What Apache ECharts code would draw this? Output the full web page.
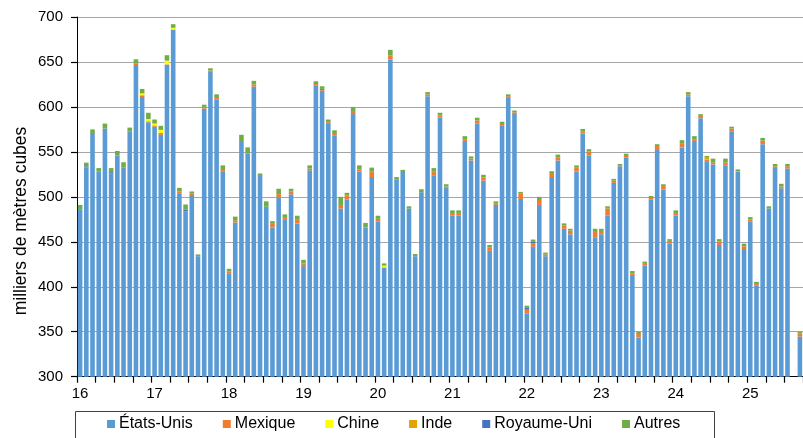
<!DOCTYPE html>
<html>
<head>
<meta charset="utf-8">
<script src="https://cdn.jsdelivr.net/npm/echarts@6/dist/echarts.min.js"></script>
<style>
  html, body { margin: 0; padding: 0; background: #fff; }
  #main { width: 803px; height: 438px; }
</style>
</head>
<body>
<div id="main"></div>
<script>
// année (2 chiffres), une barre par mois de janv. 2016 à sept. 2025
var years = ['16', '17', '18', '19', '20', '21', '22', '23', '24', '25'];
var lastYearMonths = 9;

var seriesNames = ['États-Unis', 'Mexique', 'Chine', 'Inde', 'Royaume-Uni', 'Autres'];

// milliers de mètres cubes
var etatsUnis = [
  486, 533, 571, 528.5, 576, 526, 546, 532.5, 573, 646.5, 611, 583,
  578, 569, 647, 686, 504, 484, 502, 434, 598, 639, 608, 528.5,
  415, 471.5, 561, 548.5, 622.5, 522.5, 489, 466, 499, 475, 503, 470.5,
  423, 529.5, 623.5, 618, 581, 568.5, 487, 497, 592, 528, 466, 522,
  473, 421.5, 652.5, 519.5, 527.5, 487, 434, 505, 612, 524, 588, 510,
  479, 479, 561, 540.5, 581.5, 518, 440, 491, 579, 610, 592, 497.5,
  370.5, 444.5, 491, 434, 522, 540.5, 464.5, 458.5, 528, 570.5, 546, 454.5,
  458.5, 479, 515.5, 534, 543.5, 413, 343.5, 423.5, 497, 552, 508, 448,
  479, 555, 612, 561, 587.5, 539.5, 536, 446.5, 534.5, 573, 528, 442,
  473, 401, 558.5, 487, 532, 509.5, 531.5, null, 344.5
];
var mexique = [
  0, 0, 0, 0, 0, 0, 0, 0, 0, 1.5, 2, 1,
  1.5, 2, 0.5, 0, 2, 0, 1.5, 0, 2, 1.5, 2, 2.5,
  2, 2.5, 0, 0, 2.5, 0, 0, 4, 4, 2.5, 3, 4,
  3, 2, 2, 1, 2, 2.5, 4, 4.5, 3.5, 2.5, 0, 6.5,
  2.5, 0, 4.5, 0, 0, 0, 0, 0, 2, 4.5, 2.5, 1.5,
  3, 3, 2.5, 2, 3.5, 3.5, 3.5, 2, 2, 2, 2, 6,
  4, 4, 5.5, 2, 4.5, 3.5, 3.5, 4, 5, 2.5, 4.5, 7.5,
  3.5, 8, 2.5, 0.5, 2, 2, 4, 2, 2, 4.5, 4, 3,
  3, 4, 2, 3, 2.5, 2, 2, 4, 3.5, 3, 0.5, 3,
  2, 2, 4, 0, 2, 2, 2.5, null, 3.5
];
var chine = [
  0, 0, 0, 0, 0, 0, 0, 0, 0, 0, 2, 2.5,
  2, 3.5, 4, 2, 0, 0, 0, 0, 0, 0, 0, 0,
  0, 0, 0, 0, 0, 0, 0, 0, 0, 0, 0, 0,
  0, 0, 0, 0, 0, 0, 0, 0, 0, 0, 0, 0,
  0, 2, 0, 0, 0, 0, 0, 0, 0, 0, 0, 0,
  0, 0, 0, 0, 0, 0, 0, 0, 0, 0, 0, 0,
  0, 0, 0, 0, 0, 0, 0, 0, 0, 0, 0, 0,
  0, 0, 0, 0, 0, 0, 0, 0, 0, 0, 0, 0,
  0, 0, 0, 0, 0, 0, 0, 0, 0, 0, 0, 0,
  0, 0, 0, 0, 0, 0, 0, null, 0
];
var inde = [
  0, 0, 0, 0, 0, 0, 0, 0, 0, 0, 0, 0,
  0, 0, 0, 0, 0, 0, 0, 0, 0, 0, 0, 0,
  0, 0, 0, 0, 0, 0, 0, 0, 0, 0, 0, 0,
  0, 0, 0, 0, 0, 0, 0, 0, 0, 0, 0, 0,
  0, 0, 0, 0, 0, 0, 0, 0, 0, 0, 0, 0,
  0, 0, 0, 0, 0, 0, 0, 0, 0, 0, 0, 0,
  0, 0, 0, 0, 0, 0, 0, 0, 0, 0, 0, 0,
  0, 0, 0, 0, 0, 0, 0, 0, 0, 0, 0, 0,
  0, 0, 0, 0, 0, 2, 0, 0, 0, 0, 0, 0,
  0, 0, 0, 0, 0, 0, 0, null, 0
];
var royaumeUni = [
  0.5, 1, 0, 0, 0, 1.5, 0, 0, 0, 0, 0, 0,
  0, 0, 0, 0, 0, 2, 0, 0, 0, 0, 0, 0,
  0, 0, 0, 0, 0, 1.5, 0, 0, 0, 0, 0, 0,
  0, 0, 0, 1, 0, 0, 0, 0, 0, 0, 0, 0,
  0, 0, 0, 0, 0, 0, 0, 0, 0, 0, 0, 0,
  0, 0, 0, 0, 0, 0, 0, 0, 0, 0, 0, 0,
  2, 2, 0, 0, 0, 0, 0, 0, 0, 0, 0, 0,
  0, 0, 0, 0, 0, 0, 0, 0, 0, 0, 0, 0,
  0, 0, 0, 0, 0, 0, 0, 0, 0, 0, 0, 0,
  0, 0, 0, 0, 0, 0, 0, null, 0
];
var autres = [
  4.5, 4, 4, 3.5, 5.5, 4.5, 5, 6, 4, 5, 5, 7,
  4.5, 4.5, 6, 4, 4, 5.5, 2.5, 2, 2.5, 2.5, 4, 4,
  3, 4, 8, 6.5, 4, 2, 6, 3, 6, 3, 3, 4.5,
  4, 3.5, 3, 3, 3, 3, 9, 3, 4.5, 4.5, 5, 4,
  3.5, 2.5, 6.5, 2.5, 2.5, 2.5, 2.5, 3.5, 2.5, 3.5, 3, 2.5,
  3, 3, 4, 2.5, 3, 3, 3, 2, 2.5, 2, 2, 2,
  2.5, 2, 3.5, 2, 2, 3, 2.5, 2, 2, 2.5, 2.5, 2.5,
  2.5, 2.5, 2, 2, 2.5, 2.5, 2.5, 2.5, 2, 2, 2, 2,
  3, 4, 2.5, 3.5, 2, 2, 4.5, 2.5, 4.5, 2, 2, 3,
  2.5, 2.5, 3, 2.5, 2.5, 3, 2.5, null, 2
];

var colors = ['#5B9BD5', '#ED7D31', '#FFFF00', '#E2A500', '#4472C4', '#70AD47'];

var months = [];
years.forEach(function (y, k) {
  var n = (k === years.length - 1) ? lastYearMonths : 12;
  for (var m = 1; m <= n; m++) {
    months.push(y + '-' + (m < 10 ? '0' + m : m));
  }
});

var values = [etatsUnis, mexique, chine, inde, royaumeUni, autres];

var chart = echarts.init(document.getElementById('main'));

var series = seriesNames.map(function (name, k) {
  return {
    name: name,
    type: 'bar',
    stack: 'total',
    barWidth: '74%',
    data: values[k],
    itemStyle: { color: colors[k] },
    emphasis: { disabled: true }
  };
});

chart.setOption({
  animation: false,
  textStyle: { fontFamily: 'Liberation Sans, Arial, sans-serif' },
  grid: { left: 77, right: -3, top: 17, bottom: 61.3 },
  legend: {
    data: seriesNames,
    left: 75,
    top: 411,
    padding: [5, 25, 5, 32],
    itemGap: 30,
    itemWidth: 8,
    itemHeight: 8,
    icon: 'rect',
    selectedMode: false,
    textStyle: { fontSize: 16, color: '#000', padding: [0, 0, 0, -1] }
  },
  graphic: [{
    type: 'text',
    x: 21,
    y: 221,
    rotation: Math.PI / 2,
    style: {
      text: 'milliers de mètres cubes',
      font: '17.5px "Liberation Sans", Arial, sans-serif',
      fill: '#000',
      align: 'center',
      verticalAlign: 'middle'
    }
  }, {
    // cadre de la légende (coupé en bas comme l'original)
    type: 'rect',
    shape: { x: 75.5, y: 411.5, width: 639, height: 40 },
    style: { fill: 'none', stroke: '#404040', lineWidth: 1 }
  }],
  xAxis: {
    type: 'category',
    data: months,
    axisLine: { show: true, lineStyle: { color: '#000', width: 1 } },
    axisTick: { show: true, length: 6, interval: 2, lineStyle: { color: '#000', width: 1.2 } },
    axisLabel: {
      interval: 11,
      formatter: function (v) { return v.slice(0, 2); },
      fontSize: 15,
      color: '#000',
      margin: 10
    },
    splitLine: { show: false }
  },
  yAxis: {
    type: 'value',
    min: 300,
    max: 700,
    interval: 50,
    axisLine: { show: true, lineStyle: { color: '#000', width: 1 } },
    axisTick: { show: true, length: 6, lineStyle: { color: '#000', width: 1.2 } },
    axisLabel: { fontSize: 15, color: '#000', margin: 14 },
    splitLine: { lineStyle: { color: '#a6a6a6', width: 1 } }
  },
  series: series
});
</script>
</body>
</html>
